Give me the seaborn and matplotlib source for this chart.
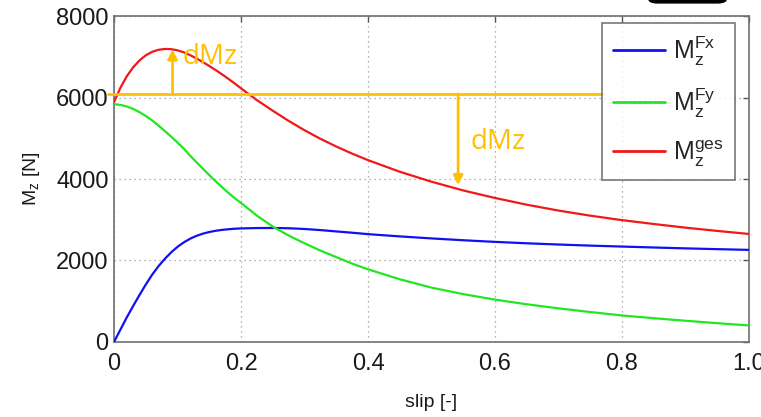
import numpy as np
import pandas as pd
import seaborn as sns
import matplotlib.pyplot as plt
from matplotlib.patches import FancyBboxPatch

# Slip values at which the moments were evaluated
slip = [0.00, 0.01, 0.02, 0.03, 0.04, 0.05, 0.06, 0.07, 0.08, 0.09, 0.10,
        0.11, 0.12, 0.13, 0.14, 0.15, 0.16, 0.17, 0.18, 0.19, 0.20,
        0.225, 0.25, 0.275, 0.30, 0.325, 0.35, 0.375, 0.40,
        0.45, 0.50, 0.55, 0.60, 0.65, 0.70, 0.75, 0.80, 0.85, 0.90, 0.95, 1.00]

# Moment from the longitudinal force [N]
mz_fx = [0, 300, 600, 880, 1150, 1410, 1650, 1860, 2040, 2200, 2335,
         2445, 2535, 2605, 2658, 2698, 2728, 2750, 2766, 2778, 2786,
         2795, 2797, 2790, 2772, 2745, 2712, 2680, 2645,
         2590, 2540, 2495, 2455, 2420, 2390, 2363, 2340, 2317, 2295, 2276, 2258]

# Moment from the lateral force [N]
mz_fy = [5840, 5825, 5785, 5725, 5645, 5550, 5440, 5315, 5180, 5040, 4895,
         4745, 4570, 4410, 4250, 4095, 3945, 3800, 3660, 3530, 3410,
         3100, 2830, 2610, 2420, 2240, 2080, 1920, 1780,
         1535, 1330, 1170, 1035, 920, 820, 730, 645, 578, 515, 455, 400]

# Total moment [N]
mz_ges = [5900, 6250, 6530, 6750, 6920, 7045, 7130, 7180, 7200, 7195, 7165,
          7115, 7045, 6965, 6875, 6780, 6680, 6575, 6465, 6350, 6230,
          5940, 5680, 5430, 5200, 4990, 4800, 4625, 4465,
          4180, 3935, 3720, 3535, 3370, 3225, 3100, 2990, 2895, 2805, 2725, 2650]

series_names = [r'$\mathregular{M_z^{Fx}}$', r'$\mathregular{M_z^{Fy}}$',
                r'$\mathregular{M_z^{ges}}$']
series_colors = ['#1010F0', '#22E622', '#F01818']

x_ticks = [0, 0.2, 0.4, 0.6, 0.8, 1.0]
x_tick_labels = ['0', '0.2', '0.4', '0.6', '0.8', '1.0']
y_ticks = [0, 2000, 4000, 6000, 8000]
y_tick_labels = ['0', '2000', '4000', '6000', '8000']

# Reference level and the two moment differences
dmz_level = 6100
dmz_level_end = 0.77
dmz_up_slip, dmz_up_value = 0.092, 7190
dmz_down_slip, dmz_down_value = 0.542, 3850
dmz_color = '#FFC000'

sns.set_style('white')
plt.rcParams['font.family'] = ['Liberation Sans', 'DejaVu Sans']
plt.rcParams['mathtext.default'] = 'regular'

df = pd.DataFrame({
    'slip': slip * 3,
    'Mz': mz_fx + mz_fy + mz_ges,
    'series': [series_names[0]] * len(slip) + [series_names[1]] * len(slip)
              + [series_names[2]] * len(slip),
})

fig = plt.figure(figsize=(7.61, 4.17), dpi=100)
ax = fig.add_axes([0.150, 0.1806, 0.834, 0.780])

sns.lineplot(data=df, x='slip', y='Mz', hue='series', hue_order=series_names,
             palette=series_colors, linewidth=1.6, ax=ax, legend=True, zorder=3)

ax.set_xlim(0, 1.0)
ax.set_ylim(0, 8000)
ax.set_xticks(x_ticks)
ax.set_xticklabels(x_tick_labels)
ax.set_yticks(y_ticks)
ax.set_yticklabels(y_tick_labels)
ax.grid(True, linestyle=(0, (1, 3)), color='#999999', linewidth=0.9)
ax.tick_params(direction='in', length=4, width=1, color='#555555',
               labelsize=17, labelcolor='#1a1a1a', top=True, right=True)
ax.tick_params(axis='x', pad=8)
ax.tick_params(axis='y', pad=4)
for s in ax.spines.values():
    s.set_color('#707070')
    s.set_linewidth(1.2)

ax.set_xlabel('slip [-]', fontsize=14, color='#1a1a1a', labelpad=14)
ax.set_ylabel(r'$\mathregular{M_z}$ [N]', fontsize=14, color='#1a1a1a', labelpad=10)

# Reference level line and difference arrows
ax.plot([-0.01, dmz_level_end], [dmz_level, dmz_level], color=dmz_color,
        linewidth=2.0, clip_on=False, zorder=4)
ax.annotate('', xy=(dmz_up_slip, dmz_up_value), xytext=(dmz_up_slip, dmz_level),
            arrowprops=dict(arrowstyle='-|>', color=dmz_color, lw=2.0,
                            mutation_scale=14, shrinkA=0, shrinkB=0), zorder=4)
ax.annotate('', xy=(dmz_down_slip, dmz_down_value), xytext=(dmz_down_slip, dmz_level),
            arrowprops=dict(arrowstyle='-|>', color=dmz_color, lw=2.0,
                            mutation_scale=14, shrinkA=0, shrinkB=0), zorder=4)
ax.text(0.108, 7000, 'dMz', color=dmz_color, fontsize=20, va='center', ha='left',
        family=['Open Sans', 'DejaVu Sans'], zorder=4)
ax.text(0.562, 4900, 'dMz', color=dmz_color, fontsize=20, va='center', ha='left',
        family=['Open Sans', 'DejaVu Sans'], zorder=4)

leg = ax.legend(loc='upper right', bbox_to_anchor=(0.978, 0.980), borderaxespad=0,
                fontsize=18, frameon=True, fancybox=False, handlelength=2.1,
                handletextpad=0.3, labelspacing=0.75, borderpad=0.45, title=None)
leg.get_frame().set_edgecolor('#555555')
leg.get_frame().set_linewidth(1.2)
for line in leg.get_lines():
    line.set_linewidth(2.0)

# Dark rounded tab at the top edge
fig.patches.append(FancyBboxPatch((0.852, 0.993), 0.103, 0.03, boxstyle='round,pad=0,rounding_size=0.012',
                                  transform=fig.transFigure, facecolor='black',
                                  edgecolor='black', figure=fig))

fig.savefig('out.png', dpi=100)
